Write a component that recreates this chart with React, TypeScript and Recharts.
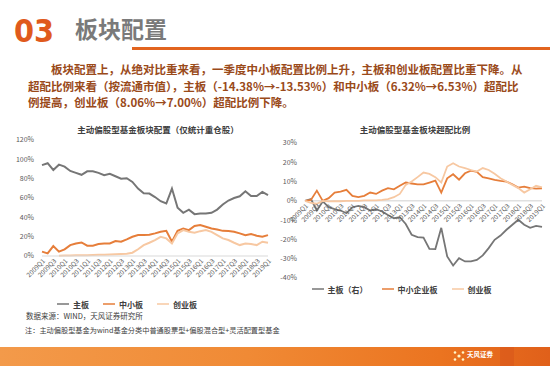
import { LineChart, Line, XAxis, YAxis, Legend, ReferenceLine } from 'recharts'

const QUARTERS = [
  '2009Q1', '2009Q2', '2009Q3', '2009Q4', '2010Q1', '2010Q2', '2010Q3', '2010Q4',
  '2011Q1', '2011Q2', '2011Q3', '2011Q4', '2012Q1', '2012Q2', '2012Q3', '2012Q4',
  '2013Q1', '2013Q2', '2013Q3', '2013Q4', '2014Q1', '2014Q2', '2014Q3', '2014Q4',
  '2015Q1', '2015Q2', '2015Q3', '2015Q4', '2016Q1', '2016Q2', '2016Q3', '2016Q4',
  '2017Q1', '2017Q2', '2017Q3', '2017Q4', '2018Q1', '2018Q2', '2018Q3', '2018Q4',
  '2019Q1',
]

// left chart: weight in holdings (%)
const MAIN_WEIGHT = [
  94, 96, 89, 94.5, 92.5, 88, 86, 84, 87.6, 87.6, 86, 83.5, 85, 82.5, 80, 80.4,
  76.6, 69.8, 65, 64.6, 61, 56.7, 54.3, 69.8, 50, 44.7, 48, 43.3, 44, 44, 44.7,
  48, 53.3, 57.4, 60, 61.8, 67, 62, 62, 66.3, 63,
]
const SME_WEIGHT = [
  4.5, 2.7, 10.3, 4.5, 6.9, 11.3, 13, 14, 10.7, 10.7, 12.4, 13, 13, 15.5, 14.8,
  17.2, 19.9, 21.6, 21.6, 22, 23.4, 25, 26, 14.8, 26, 28.5, 26.8, 31, 32, 30.2,
  28.5, 27.5, 26, 25.8, 25, 23.4, 21.6, 22.7, 21, 19.9, 21.6,
]
const GEM_WEIGHT = [
  null, null, null, 0.3, 0.5, 0.6, 0.7, 0.8, 0.9, 1, 1.2, 1.4, 1.6, 1.8, 2, 2.3,
  3.4, 7, 11.3, 13.7, 16.5, 19.9, 18.2, 13, 23.4, 26.8, 25, 24, 25.7, 26.8, 25,
  21.6, 18.2, 16.5, 13.7, 11.3, 13, 12.4, 11.3, 14.8, 13.7,
]

// right chart: over/under weight (%)
const MAIN_OVER = [
  0, 0.9, -5, -0.3, -3.3, -4.3, -5, -6.4, -3.3, -2.6, -3.3, -5, -4.3, -5.5, -7.3,
  -9, -8.5, -12, -17.6, -18.8, -19, -24.9, -25, -14, -28.8, -33.5, -29.7, -31.4,
  -31.4, -30.6, -28.3, -24.5, -20.2, -18, -15, -12.4, -9.8, -12.4, -14, -13, -13.53,
]
const SME_OVER = [
  0, 0.5, 5.3, 0, 1.4, 4.3, 4.8, 5.7, 2.6, 1.9, 2.6, 4.3, 3.6, 5.3, 6.6, 6, 7.8,
  9.5, 9, 8.5, 8.5, 9.5, 10.5, 4.3, 11.7, 13.8, 11, 14.3, 15.7, 15, 12.3, 11.7,
  10.9, 10.4, 10, 8.6, 6.9, 7.4, 6.6, 6.3, 6.53,
]
const GEM_OVER = [
  0, -1, -1.5, 0, -0.3, -0.2, -0.2, 0, 0, 0, 0.2, 0.3, 0.3, 0.5, 0.9, 1.9, 3.6,
  8.3, 10, 12.3, 14.7, 14, 12.3, 9.5, 17.8, 19.5, 17.8, 17, 16, 15.2, 17, 16, 14,
  11.7, 10, 8.3, 6.6, 4.3, 6, 7.8, 7.0,
]

const LEFT_TICKS = [0, 20, 40, 60, 80, 100, 120]
const RIGHT_TICKS = [-40, -30, -20, -10, 0, 10, 20, 30]
const SERIES_ORDER = ['main', 'sme', 'gem']

const leftData = QUARTERS.map((q, i) => ({
  q,
  main: MAIN_WEIGHT[i],
  sme: SME_WEIGHT[i],
  gem: GEM_WEIGHT[i],
}))
const rightData = QUARTERS.map((q, i) => ({
  q,
  main: MAIN_OVER[i],
  sme: SME_OVER[i],
  gem: GEM_OVER[i],
}))

const FONT = '"Noto Sans CJK SC", "Noto Sans", sans-serif'
const GRAY = '#767676'
const ORANGE = '#e67e3a'
const LIGHT = '#f7c8a2'
const TICK = { fontSize: 7, fill: '#595959', fontFamily: FONT }

// right chart geometry, so the category labels can sit on the 0% line
const R_TOP = 18
const R_PLOT_H = 135
const R_BOT = 4
const R_XH = 2
const R_LEG = 14
const R_H = R_TOP + R_PLOT_H + R_XH + R_LEG + R_BOT
const ZERO_SHIFT = (R_PLOT_H * 40) / 70

function QuarterTick(props: any) {
  const { x, y, payload, shift = 0 } = props
  return (
    <g transform={`translate(${x},${y - shift})`}>
      <text
        x={0}
        y={0}
        dy={5}
        textAnchor="end"
        transform="rotate(-45)"
        fontSize={6.5}
        fill="#595959"
        fontFamily={FONT}
      >
        {payload.value}
      </text>
    </g>
  )
}

const legendText = (value: string) => (
  <span style={{ color: '#404040', fontSize: 8, fontWeight: 700, fontFamily: FONT, paddingRight: 4 }}>
    {value}
  </span>
)
const legendSort = (item: any) => SERIES_ORDER.indexOf(item.dataKey)

export default function App() {
  return (
    <div
      style={{
        position: 'fixed',
        left: 0,
        top: 0,
        width: 550,
        height: 366,
        background: '#fff',
        overflow: 'hidden',
        fontFamily: FONT,
      }}
    >
      {/* header */}
      <div
        style={{
          position: 'absolute',
          left: 14,
          top: 10,
          fontSize: 32,
          fontWeight: 900,
          color: '#e05a1c',
          fontFamily: '"DejaVu Sans Condensed", "DejaVu Sans", sans-serif',
          lineHeight: '42px',
        }}
      >
        03
      </div>
      <div
        style={{
          position: 'absolute',
          left: 75,
          top: 12,
          fontSize: 23,
          fontWeight: 700,
          color: '#7a7a7a',
          lineHeight: '32px',
        }}
      >
        板块配置
      </div>
      <div style={{ position: 'absolute', left: 132, top: 47, width: 418, height: 3, background: '#e2641f' }} />

      {/* paragraph */}
      <div
        style={{
          position: 'absolute',
          left: 28,
          top: 61,
          fontSize: 11.5,
          fontWeight: 700,
          color: '#9a4a1a',
          lineHeight: '16.5px',
          whiteSpace: 'nowrap',
        }}
      >
        <div style={{ paddingLeft: 23 }}>
          板块配置上，从绝对比重来看，一季度中小板配置比例上升，主板和创业板配置比重下降。从
        </div>
        <div>超配比例来看（按流通市值），主板（-14.38%→-13.53%）和中小板（6.32%→6.53%）超配比</div>
        <div>例提高，创业板（8.06%→7.00%）超配比例下降。</div>
      </div>

      {/* chart titles */}
      <div
        style={{
          position: 'absolute',
          left: 40,
          top: 123,
          width: 236,
          textAlign: 'center',
          fontSize: 8.5,
          fontWeight: 700,
          color: '#404040',
        }}
      >
        主动偏股型基金板块配置（仅统计重仓股）
      </div>
      <div
        style={{
          position: 'absolute',
          left: 305,
          top: 123,
          width: 220,
          textAlign: 'center',
          fontSize: 8.5,
          fontWeight: 700,
          color: '#404040',
        }}
      >
        主动偏股型基金板块超配比例
      </div>

      {/* left chart */}
      <div style={{ position: 'absolute', left: 0, top: 125 }}>
        <LineChart width={275} height={190} data={leftData} margin={{ top: 15, right: 7, left: 0, bottom: 6 }}>
          <XAxis
            dataKey="q"
            interval={1}
            height={39}
            tickSize={0}
            tickMargin={2}
            axisLine={{ stroke: '#d9d9d9' }}
            tick={<QuarterTick />}
          />
          <YAxis
            width={42}
            domain={[0, 120]}
            ticks={LEFT_TICKS}
            tickFormatter={(v) => `${v}%`}
            axisLine={false}
            tickLine={false}
            tick={TICK}
          />
          <Legend
            verticalAlign="bottom"
            height={14}
            iconType="plainline"
            iconSize={12}
            itemSorter={legendSort}
            formatter={legendText}
            wrapperStyle={{ lineHeight: '12px' }}
          />
          <Line name="主板" dataKey="main" stroke={GRAY} strokeWidth={2} dot={false} isAnimationActive={false} />
          <Line name="中小板" dataKey="sme" stroke={ORANGE} strokeWidth={2} dot={false} isAnimationActive={false} />
          <Line name="创业板" dataKey="gem" stroke={LIGHT} strokeWidth={2} dot={false} isAnimationActive={false} />
        </LineChart>
      </div>

      {/* right chart */}
      <div style={{ position: 'absolute', left: 275, top: 125 }}>
        <LineChart width={275} height={R_H} data={rightData} margin={{ top: R_TOP, right: 8, left: 0, bottom: R_BOT }}>
          <XAxis
            dataKey="q"
            interval={1}
            height={R_XH}
            tickSize={0}
            tickMargin={2}
            axisLine={false}
            tick={<QuarterTick shift={ZERO_SHIFT} />}
          />
          <YAxis
            width={30}
            domain={[-40, 30]}
            ticks={RIGHT_TICKS}
            tickFormatter={(v) => `${v}%`}
            axisLine={false}
            tickLine={false}
            tick={TICK}
          />
          <ReferenceLine y={0} stroke="#d0d0d0" />
          <Legend
            verticalAlign="bottom"
            height={R_LEG}
            iconType="plainline"
            iconSize={12}
            itemSorter={legendSort}
            formatter={legendText}
            wrapperStyle={{ lineHeight: '12px' }}
          />
          <Line name="主板（右）" dataKey="main" stroke={GRAY} strokeWidth={1.8} dot={false} isAnimationActive={false} />
          <Line name="中小企业板" dataKey="sme" stroke={ORANGE} strokeWidth={1.8} dot={false} isAnimationActive={false} />
          <Line name="创业板" dataKey="gem" stroke={LIGHT} strokeWidth={1.8} dot={false} isAnimationActive={false} />
        </LineChart>
      </div>

      {/* notes */}
      <div style={{ position: 'absolute', left: 26, top: 310, fontSize: 7.5, color: '#404040', lineHeight: '11px' }}>
        数据来源：WIND，天风证券研究所
      </div>
      <div style={{ position: 'absolute', left: 25, top: 325, fontSize: 7.2, color: '#404040', lineHeight: '11px' }}>
        注：主动偏股型基金为wind基金分类中普通股票型+偏股混合型+灵活配置型基金
      </div>

      {/* footer band */}
      <div
        style={{
          position: 'absolute',
          left: 0,
          top: 347,
          width: 550,
          height: 19,
          background: 'linear-gradient(90deg, #f39a4a 0%, #f08a35 45%, #eb7420 80%, #e0601a 100%)',
        }}
      />
      <div style={{ position: 'absolute', left: 500, top: 347, width: 14, height: 19, background: '#d9561a', opacity: 0.6 }} />
      <svg style={{ position: 'absolute', left: 453, top: 350 }} width={12} height={12}>
        <circle cx={6} cy={6} r={1.6} fill="#fff6c8" />
        <circle cx={2} cy={2.5} r={1.3} fill="#fff6c8" />
        <circle cx={10} cy={2.5} r={1.3} fill="#fff6c8" />
        <circle cx={2} cy={9.5} r={1.3} fill="#fff6c8" />
        <circle cx={10} cy={9.5} r={1.3} fill="#fff6c8" />
      </svg>
      <div style={{ position: 'absolute', left: 467, top: 350, fontSize: 6.5, color: '#fff', fontWeight: 700, lineHeight: '9px' }}>
        天风证券
      </div>
    </div>
  )
}
